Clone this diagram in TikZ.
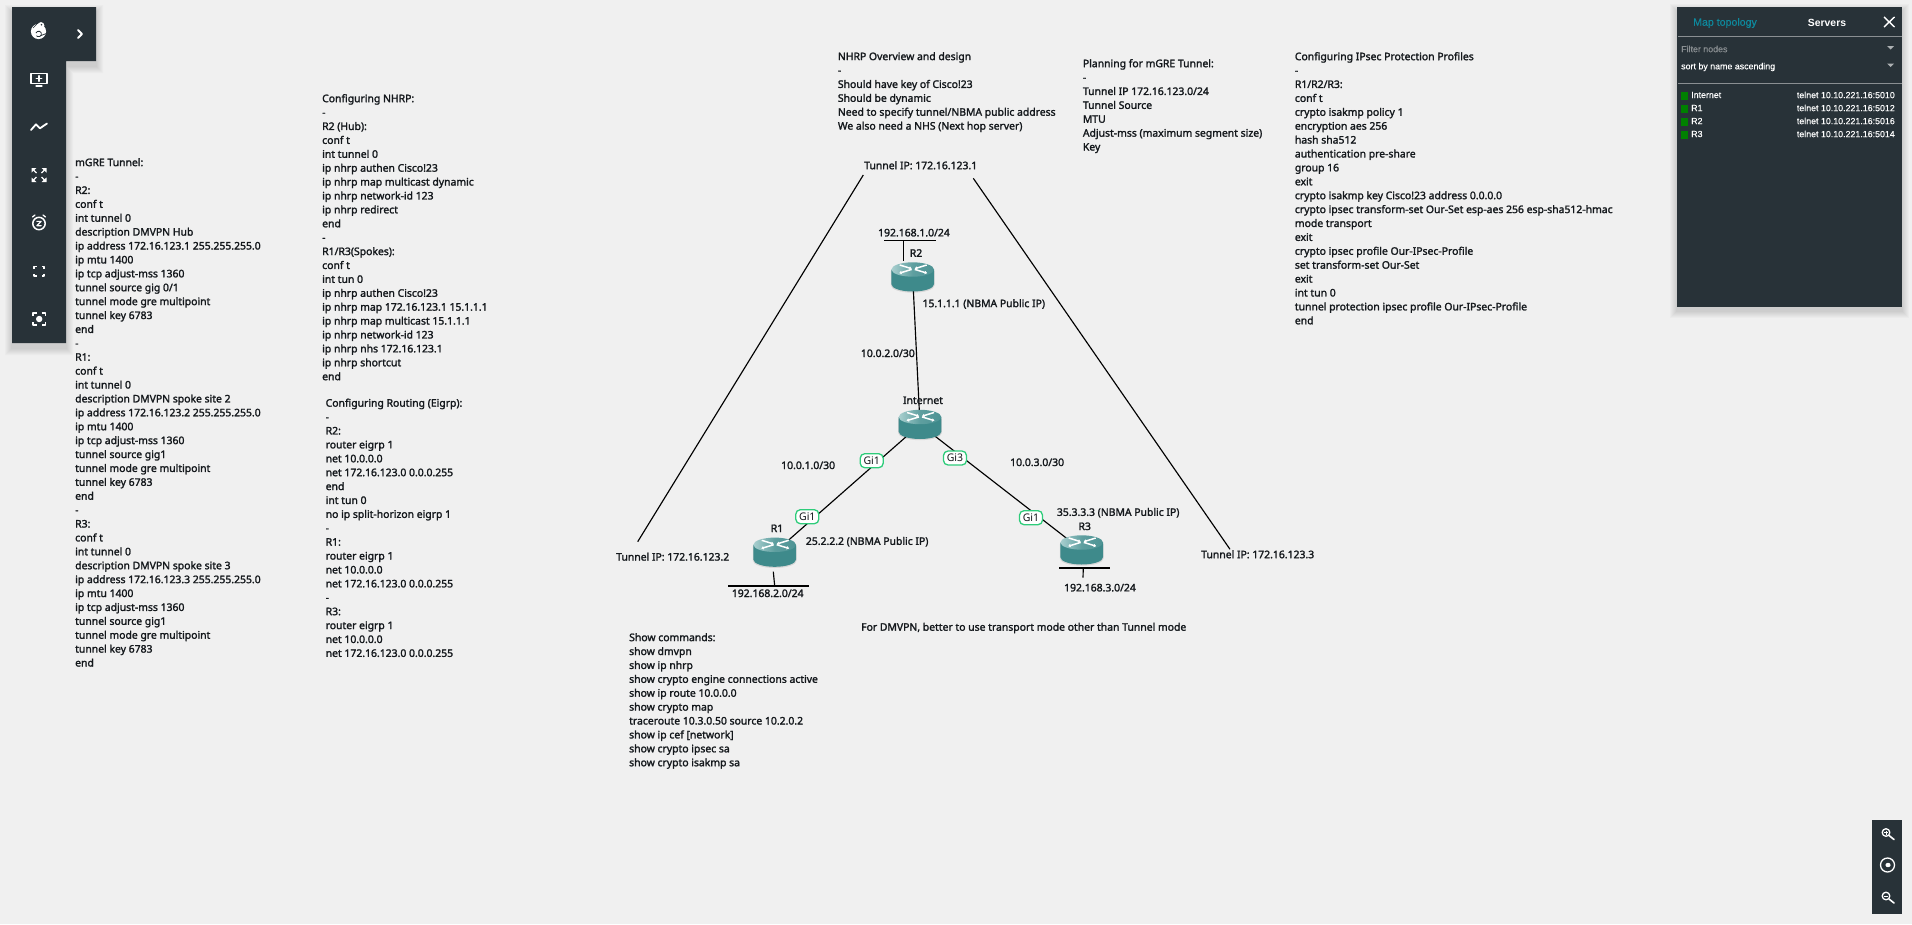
\documentclass[tikz,border=0pt]{standalone}
\usepackage{fontspec}
\setmainfont{Liberation Sans}
\newfontfamily\notab[FakeBold=1.8]{Noto Sans}
\newfontfamily\notar{Noto Sans}
\newfontfamily\panelb[FakeBold=0.25]{Liberation Sans}
\usetikzlibrary{arrows.meta}
\definecolor{bgc}{HTML}{F0F0F0}
\definecolor{panelc}{HTML}{283238}
\definecolor{inkc}{HTML}{14181C}
\definecolor{tealc}{HTML}{3E8A8B}
\definecolor{tealL}{HTML}{A9CFCF}
\definecolor{gic}{HTML}{2ECC7A}
\definecolor{mapc}{HTML}{0E8A9E}
\definecolor{rulec}{HTML}{8A8F92}
\definecolor{greyt}{HTML}{8A8F92}
\definecolor{okc}{HTML}{008000}
\tikzset{
  txtblk/.style={anchor=north west,inner sep=0pt,align=left,text=inkc,font=\notab\fontsize{10.4}{13.9}\selectfont},
  lbl/.style={inner sep=0pt,text=inkc,font=\notab\fontsize{10.4}{13.9}\selectfont},
  lblw/.style={lbl,anchor=west},
  gibox/.style={draw=gic,line width=1.3pt,fill=white,rounded corners=4.5pt,minimum width=23pt,minimum height=14pt,inner sep=0pt,text=inkc,font=\notar\fontsize{10.5}{12}\selectfont},
  rtr/.style={minimum width=43pt,minimum height=29pt,inner sep=0pt},
  wire/.style={draw=black,line width=1.15pt},
  ico/.style={draw=white,line width=1.3pt,line cap=round,line join=round},
  pt/.style={inner sep=0pt,font=\panelb\fontsize{8.85}{11}\selectfont,text=white},
}
\newcommand\routericon[1]{%
\begin{scope}[shift={(#1.center)}]
  \fill[black,opacity=.10] (-21.8,-6) -- (-21.8,8.5) arc[x radius=21.8,y radius=7.2,start angle=180,end angle=0] -- (21.8,-6) -- cycle;
  \fill[tealc] (-21.3,-7.5) -- (-21.3,7.3) arc[x radius=21.3,y radius=7.2,start angle=180,end angle=0] -- (21.3,-7.5) -- cycle;
  \shade[left color=tealL,right color=tealc!92!white,middle color=tealc!70!tealL] (0,-7.5) ellipse [x radius=21.3,y radius=7.2];
  \draw[white,line width=1.5pt,-{Latex[length=2.4pt,width=3.8pt]}] (-13,-12) -- (-1,-8.3);
  \draw[white,line width=1.5pt,-{Latex[length=2.4pt,width=3.8pt]}] (14,-12) -- (2,-8.3);
  \draw[white,line width=1.5pt,-{Latex[length=2.4pt,width=3.8pt]}] (-1,-7.6) -- (-13.5,-3.8);
  \draw[white,line width=1.5pt,-{Latex[length=2.4pt,width=3.8pt]}] (2,-7.6) -- (14.5,-3.8);
\end{scope}}
\begin{document}
\begin{tikzpicture}[x=1pt,y=-1pt]
\fill[bgc] (0,0) rectangle (1912,924);
\useasboundingbox (0,0) rectangle (1912,924);

% --- text blocks
\node[txtblk] (mgre) at (75,158) {mGRE Tunnel:\\-\\R2:\\conf t\\int tunnel 0\\description DMVPN Hub\\ip address 172.16.123.1 255.255.255.0\\ip mtu 1400\\ip tcp adjust-mss 1360\\tunnel source gig 0/1\\tunnel mode gre multipoint\\tunnel key 6783\\end\\-\\R1:\\conf t\\int tunnel 0\\description DMVPN spoke site 2\\ip address 172.16.123.2 255.255.255.0\\ip mtu 1400\\ip tcp adjust-mss 1360\\tunnel source gig1\\tunnel mode gre multipoint\\tunnel key 6783\\end\\-\\R3:\\conf t\\int tunnel 0\\description DMVPN spoke site 3\\ip address 172.16.123.3 255.255.255.0\\ip mtu 1400\\ip tcp adjust-mss 1360\\tunnel source gig1\\tunnel mode gre multipoint\\tunnel key 6783\\end};
\node[txtblk] (nhrp) at (322,94) {Configuring NHRP:\\-\\R2 (Hub):\\conf t\\int tunnel 0\\ip nhrp authen Cisco!23\\ip nhrp map multicast dynamic\\ip nhrp network-id 123\\ip nhrp redirect\\end\\-\\R1/R3(Spokes):\\conf t\\int tun 0\\ip nhrp authen Cisco!23\\ip nhrp map 172.16.123.1 15.1.1.1\\ip nhrp map multicast 15.1.1.1\\ip nhrp network-id 123\\ip nhrp nhs 172.16.123.1\\ip nhrp shortcut\\end};
\node[txtblk] (eigrp) at (325.5,398.5) {Configuring Routing (Eigrp):\\-\\R2:\\router eigrp 1\\net 10.0.0.0\\net 172.16.123.0 0.0.0.255\\end\\int tun 0\\no ip split-horizon eigrp 1\\-\\R1:\\router eigrp 1\\net 10.0.0.0\\net 172.16.123.0 0.0.0.255\\-\\R3:\\router eigrp 1\\net 10.0.0.0\\net 172.16.123.0 0.0.0.255};
\node[txtblk] (over) at (837.7,52) {NHRP Overview and design\\-\\Should have key of Cisco!23\\Should be dynamic\\Need to specify tunnel/NBMA public address\\We also need a NHS (Next hop server)};
\node[txtblk] (plan) at (1082.7,59) {Planning for mGRE Tunnel:\\-\\Tunnel IP 172.16.123.0/24\\Tunnel Source\\MTU\\Adjust-mss (maximum segment size)\\Key};
\node[txtblk] (ipsec) at (1294.7,52) {Configuring IPsec Protection Profiles\\-\\R1/R2/R3:\\conf t\\crypto isakmp policy 1\\encryption aes 256\\hash sha512\\authentication pre-share\\group 16\\exit\\crypto isakmp key Cisco!23 address 0.0.0.0\\crypto ipsec transform-set Our-Set esp-aes 256 esp-sha512-hmac\\mode transport\\exit\\crypto ipsec profile Our-IPsec-Profile\\set transform-set Our-Set\\exit\\int tun 0\\tunnel protection ipsec profile Our-IPsec-Profile\\end};
\node[txtblk] (show) at (629,633) {Show commands:\\show dmvpn\\show ip nhrp\\show crypto engine connections active\\show ip route 10.0.0.0\\show crypto map\\traceroute 10.3.0.50 source 10.2.0.2\\show ip cef [network]\\show crypto ipsec sa\\show crypto isakmp sa};
\node[lblw] (note) at (861,628) {For DMVPN, better to use transport mode other than Tunnel mode};

% --- tunnel labels and lines
\node[lblw] (t1) at (864,165.3) {Tunnel IP: 172.16.123.1};
\node[lblw] (t2) at (616,556.7) {Tunnel IP: 172.16.123.2};
\node[lblw] (t3) at (1201,554.3) {Tunnel IP: 172.16.123.3};
\coordinate (t1a) at (863.3,175);
\coordinate (t1b) at (973.3,178.3);
\coordinate (t2a) at (637.7,541.7);
\coordinate (t3a) at (1230,549.3);
\draw[wire] (t1a) -- (t2a);
\draw[wire] (t1b) -- (t3a);

% --- routers
\node[rtr] (r2) at (912.7,277) {};
\node[rtr] (inet) at (920,424.5) {};
\node[rtr] (r1) at (774.7,552.3) {};
\node[rtr] (r3) at (1081.7,550) {};
\draw[wire] (r2.center) -- (inet.center);
\draw[wire] (inet.center) -- (r1.center);
\draw[wire] (inet.center) -- (r3.center);
\routericon{r2}
\routericon{inet}
\routericon{r1}
\routericon{r3}

% --- stubs
\coordinate (r2ba) at (884,240.3);
\coordinate (r2bb) at (936,240.3);
\coordinate (r2sa) at (903.3,240.3);
\coordinate (r2sb) at (903.3,260.7);
\draw[wire] (r2ba) -- (r2bb);
\draw[wire] (r2sa) -- (r2sb);
\coordinate (r1ba) at (728.3,586);
\coordinate (r1bb) at (808.7,586);
\coordinate (r1sa) at (773.3,571.7);
\coordinate (r1sb) at (774.7,586);
\draw[wire] (r1ba) -- (r1bb);
\draw[wire] (r1sa) -- (r1sb);
\coordinate (r3ba) at (1059,568);
\coordinate (r3bb) at (1109.7,568);
\coordinate (r3sa) at (1083.3,568);
\coordinate (r3sb) at (1083,577.7);
\draw[wire] (r3ba) -- (r3bb);
\draw[wire] (r3sa) -- (r3sb);

% --- interface tags
\node[gibox] (gi1a) at (871.7,460.7) {Gi1};
\node[gibox] (gi1b) at (807.3,516.7) {Gi1};
\node[gibox] (gi3) at (955,458) {Gi3};
\node[gibox] (gi1c) at (1031,517.7) {Gi1};

% --- labels
\node[lbl] (ln1) at (914,232.7) {192.168.1.0/24};
\node[lbl] (nr2) at (916,253) {R2};
\node[lblw] (pub1) at (922.3,304) {15.1.1.1 (NBMA Public IP)};
\node[lblw] (sn2) at (860.7,353.3) {10.0.2.0/30};
\node[lbl] (ninet) at (923,400.3) {Internet};
\node[lblw] (sn1) at (781,465.3) {10.0.1.0/30};
\node[lblw] (sn3) at (1010,462.3) {10.0.3.0/30};
\node[lblw] (pub3) at (1056.7,512.7) {35.3.3.3 (NBMA Public IP)};
\node[lbl] (nr3) at (1084.7,526.3) {R3};
\node[lbl] (nr1) at (777,528.3) {R1};
\node[lblw] (pub2) at (805.7,541.7) {25.2.2.2 (NBMA Public IP)};
\node[lbl] (ln2) at (767.7,593.3) {192.168.2.0/24};
\node[lbl] (ln3) at (1100,587.7) {192.168.3.0/24};

% --- left toolbar
\foreach \s in {1,...,7}{
  \fill[black,opacity=.02] (12-\s,7+5-\s) -- (96+\s,7+5-\s) -- (96+\s,61+5+\s) -- (66+\s,61+5+\s) -- (66+\s,343+5+\s) -- (12-\s,343+5+\s) -- cycle;
}
\fill[panelc] (12,7) -- (96,7) -- (96,61) -- (66,61) -- (66,343) -- (12,343) -- cycle;
% logo
\fill[white] (38.5,31.5) ellipse [x radius=7.6,y radius=7.6];
\fill[white] (41,25.5) circle (3.4);
\fill[panelc] (41.5,24.8) circle (.9);
\draw[panelc,line width=.8pt] (36,33) arc[radius=2.8,start angle=200,end angle=500];
\draw[panelc,line width=.8pt] (41,35.5) -- (46.5,33.5);
\draw[panelc,line width=.7pt] (33,28) -- (37,24);
\draw[ico,line width=1.8pt] (78,30) -- (82,34) -- (78,38);
% add screen
\draw[ico] (31,73.5) rectangle (47,83.5);
\draw[ico] (36,86) -- (42,86);
\draw[ico,line width=1.5pt] (39,75.8) -- (39,81.2) (36.3,78.5) -- (41.7,78.5);
% trend
\draw[ico,line width=1.8pt] (31,130) -- (36,124.3) -- (40,128.3) -- (47,123.5);
% fit
\foreach \sx/\sy in {-1/-1,1/-1,-1/1,1/1}{
  \fill[white] ({39+\sx*7.5},{175+\sy*7}) -- ({39+\sx*2.5},{175+\sy*7}) -- ({39+\sx*7.5},{175+\sy*2.5}) -- cycle;
  \draw[white,line width=1.1pt] ({39+\sx*5.5},{175+\sy*5}) -- ({39+\sx*2.5},{175+\sy*2});
}
% snooze
\draw[ico,line width=1.5pt] (39,223.5) circle (6.2);
\draw[ico] (32.5,217) -- (35,215);
\draw[ico] (45.5,217) -- (43,215);
\draw[ico,line width=1.1pt] (36.8,221.3) -- (41.2,221.3) -- (36.8,225.7) -- (41.2,225.7);
% full screen
\draw[ico,line cap=butt,line width=1.5pt] (34,269) -- (34,266.5) -- (36.5,266.5) (41.5,266.5) -- (44,266.5) -- (44,269) (44,273.5) -- (44,276) -- (41.5,276) (36.5,276) -- (34,276) -- (34,273.5);
% focus
\draw[ico,line cap=butt,line width=1.6pt] (33,316) -- (33,313) -- (36.5,313) (41.5,313) -- (45.5,313) -- (45.5,316) (45.5,322) -- (45.5,325) -- (41.5,325) (36.5,325) -- (33,325) -- (33,322);
\fill[white] (39.2,319) circle (3.2);

% --- right panel
\foreach \s in {1,...,7}{
  \fill[black,opacity=.02] (1677-\s,7+4-\s) rectangle (1902+\s,307+4+\s);
}
\fill[panelc] (1677,7) rectangle (1902,307);
\node[pt,text=mapc,font=\panelb\fontsize{10.6}{12}\selectfont] (pmap) at (1725,23) {Map topology};
\node[pt,font=\bfseries\fontsize{10.4}{12}\selectfont] (psrv) at (1827,23) {Servers};
\draw[white,line width=1.4pt] (1884,17) -- (1894.5,27) (1894.5,17) -- (1884,27);
\draw[rulec,line width=.9pt] (1678,36) -- (1902,36);
\draw[rulec,line width=.9pt] (1678,83) -- (1902,83);
\node[pt,anchor=west,text=greyt] (pflt) at (1681,49) {Filter nodes};
\node[pt,anchor=west] (psrt) at (1681,67) {sort by name ascending};
\fill[rulec!70!white] (1887,46) -- (1894,46) -- (1890.5,49.5) -- cycle;
\fill[rulec!70!white] (1887,63.5) -- (1894,63.5) -- (1890.5,67) -- cycle;
\foreach \n/\t/\yy in {Internet/5010/95,R1/5012/108,R2/5016/121,R3/5014/134}{
  \fill[okc] (1681,{\yy-3}) rectangle (1688,{\yy+4.5});
  \node[pt,anchor=west] at (1691,\yy) {\n};
  \node[pt,anchor=east] at (1895,\yy) {telnet 10.10.221.16:\t};
}

% --- zoom controls
\fill[panelc] (1872,820) rectangle (1902,914);
\draw[ico] (1886,832.5) circle (3.8);
\draw[ico,line width=1.6pt] (1889,835.5) -- (1894,839.5);
\draw[white,line width=.9pt] (1886,830.5) -- (1886,834.5) (1884,832.5) -- (1888,832.5);
\draw[ico] (1887.5,865) circle (7);
\fill[white] (1888,865) ellipse [x radius=2.6,y radius=2.2];
\draw[ico] (1886,896) circle (3.8);
\draw[ico,line width=1.6pt] (1889,899) -- (1894,903);
\draw[white,line width=.9pt] (1884,896) -- (1888,896);
\end{tikzpicture}
\end{document}
